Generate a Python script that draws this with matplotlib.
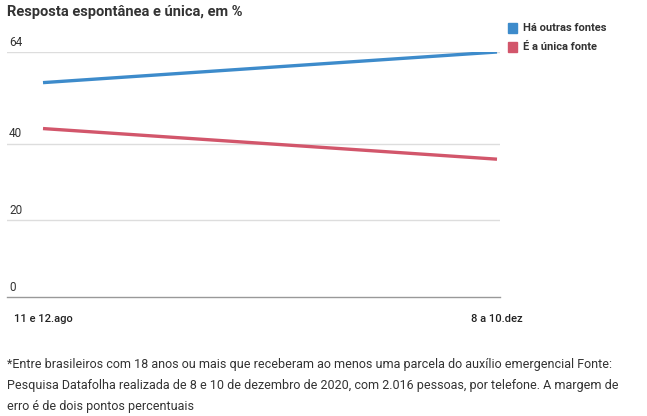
import matplotlib
matplotlib.use('Agg')
import matplotlib.pyplot as plt

TITLE = "Resposta espontânea e única, em %"
PERIODS = ['11 e 12.ago', '8 a 10.dez']
OUTRAS = [56, 64]     # Há outras fontes
UNICA = [44, 36]      # É a única fonte
SERIES = ['Há outras fontes', 'É a única fonte']
COLORS = ['#3d8bcb', '#d2566b']
YTICKS = [0, 20, 40, 64]
NOTE = ("*Entre brasileiros com 18 anos ou mais que receberam ao menos uma parcela do auxílio emergencial Fonte:\n"
        "Pesquisa Datafolha realizada de 8 e 10 de dezembro de 2020, com 2.016 pessoas, por telefone. A margem de\n"
        "erro é de dois pontos percentuais")

W, H = 647, 416
plt.rcParams['font.family'] = ['Roboto', 'DejaVu Sans']


def main():
    fig = plt.figure(figsize=(W / 100, H / 100), dpi=100)
    # axes box in pixels: left 7, right 500, top 52, bottom 297
    ax = fig.add_axes([7 / W, 1 - 297 / H, 493 / W, 245 / H])

    x = list(range(len(PERIODS)))
    ax.plot(x, OUTRAS, color=COLORS[0], lw=2.4, solid_capstyle='butt')
    ax.plot(x, UNICA, color=COLORS[1], lw=2.4, solid_capstyle='butt')

    span = 454
    ax.set_xlim(-36 / span, 1 + 3 / span)
    ax.set_ylim(0, 64)

    for s in ['top', 'right', 'left']:
        ax.spines[s].set_visible(False)
    ax.spines['bottom'].set_color('#999999')
    ax.spines['bottom'].set_linewidth(1)
    ax.set_yticks([])
    ax.set_xticks([])

    for v in YTICKS:
        if v > 0:
            ax.axhline(v, color='#dddddd', lw=1, zorder=0)
        ax.annotate(str(v), xy=(0, v), xycoords=('axes fraction', 'data'),
                    xytext=(1.5, 2.5), textcoords='offset points',
                    ha='left', va='bottom', fontsize=8.5, color='#333333')

    for xi, lab in zip(x, PERIODS):
        ax.annotate(lab, xy=(xi, 0), xycoords=('data', 'axes fraction'),
                    xytext=(0, -12.5), textcoords='offset points',
                    ha='center', va='top', fontsize=8, color='#222222',
                    fontweight='medium')

    fig.text(7 / W, 1 - 12 / H, TITLE, ha='left', va='center', fontsize=10.5,
             fontweight='bold', color='#333333')

    for i, (name, c) in enumerate(zip(SERIES, COLORS)):
        yy = 1 - (28 + 19 * i) / H
        fig.patches.append(plt.Rectangle((508 / W, yy - 4.5 / H), 9 / W, 9 / H,
                                         transform=fig.transFigure, color=c))
        fig.text(523 / W, yy, name, ha='left', va='center', fontsize=8,
                 fontweight='bold', color='#333333')

    fig.text(7 / W, 1 - 358 / H, NOTE, ha='left', va='top', fontsize=9,
             color='#333333', linespacing=1.8)

    fig.savefig('out.png', dpi=100)


if __name__ == '__main__':
    main()
